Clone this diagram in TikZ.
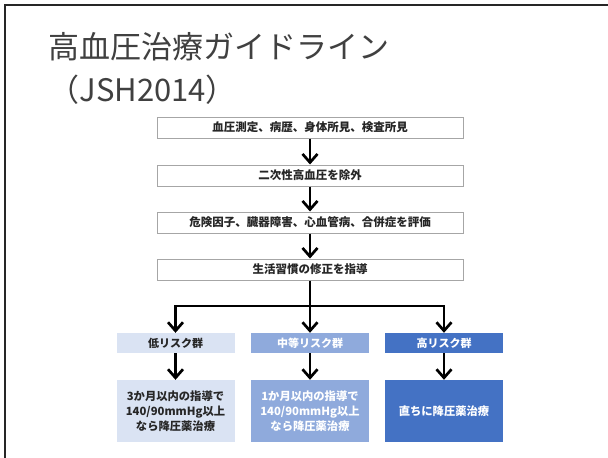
\documentclass[tikz,border=0pt]{standalone}
\usepackage{fontspec}
\setmainfont{Noto Sans CJK JP}
\usetikzlibrary{arrows.meta}
\definecolor{lowc}{HTML}{DAE3F3}
\definecolor{midc}{HTML}{8FAADC}
\definecolor{highc}{HTML}{4472C4}
\definecolor{titlec}{HTML}{404040}
\definecolor{boxline}{HTML}{A6A6A6}
\begin{document}
\begin{tikzpicture}[x=1pt,y=-1pt,
  stepbox/.style={draw=boxline,line width=1pt,fill=white,minimum width=306pt,minimum height=21pt,inner sep=0pt,font=\fontsize{11.5}{13}\selectfont\bfseries,text=black!85},
  riskbox/.style={minimum width=118pt,minimum height=20pt,inner sep=0pt,font=\fontsize{11}{13}\selectfont\bfseries},
  treatbox/.style={minimum width=118pt,minimum height=62pt,inner sep=0pt,align=center,font=\fontsize{11.3}{15}\selectfont\bfseries},
  arr/.style={line width=2.7pt,-{Straight Barb[length=8.5pt,width=15pt,line width=2.7pt]}},
  ln/.style={line width=2.7pt}]
\useasboundingbox (0,0) rectangle (608,458);
\fill[white] (0,0) rectangle (608,458);
\draw[line width=1.6pt,black!85] (5,458) -- (5,5) -- (608,5);
\node[anchor=west,text=titlec,font=\fontsize{31}{34}\selectfont] (title) at (45,47) {高血圧治療ガイドライン};
\node[anchor=west,text=titlec,font=\fontsize{31}{34}\selectfont] (sub) at (45,90) {（JSH2014）};
\node[stepbox] (s1) at (310,127.5) {血圧測定、病歴、身体所見、検査所見};
\node[stepbox] (s2) at (310,175.5) {二次性高血圧を除外};
\node[stepbox] (s3) at (310,222.5) {危険因子、臓器障害、心血管病、合併症を評価};
\node[stepbox] (s4) at (310,269.5) {生活習慣の修正を指導};
\draw[arr] (s1) -- (s2);
\draw[arr] (s2) -- (s3);
\draw[arr] (s3) -- (s4);
\node[riskbox,fill=lowc,text=black!85] (r1) at (175.5,343) {低リスク群};
\node[riskbox,fill=midc,text=white] (r2) at (310,343) {中等リスク群};
\node[riskbox,fill=highc,text=white] (r3) at (444,343) {高リスク群};
\node[treatbox,fill=lowc,text=black!85] (t1) at (175.5,411) {3か月以内の指導で\\140/90mmHg以上\\なら降圧薬治療};
\node[treatbox,fill=midc,text=white] (t2) at (310,411) {1か月以内の指導で\\140/90mmHg以上\\なら降圧薬治療};
\node[treatbox,fill=highc,text=white] (t3) at (444,411) {直ちに降圧薬治療};
\coordinate (bl) at (175.5,306);
\coordinate (bc) at (310,306);
\coordinate (br) at (444,306);
\draw[ln] (s4.south) -- (bc);
\draw[ln,line cap=rect] (bl) -- (br);
\draw[arr] (bl) -- (r1);
\draw[arr] (bc) -- (r2);
\draw[arr] (br) -- (r3);
\draw[arr] (r1) -- (t1);
\draw[arr] (r2) -- (t2);
\draw[arr] (r3) -- (t3);
\end{tikzpicture}
\end{document}
